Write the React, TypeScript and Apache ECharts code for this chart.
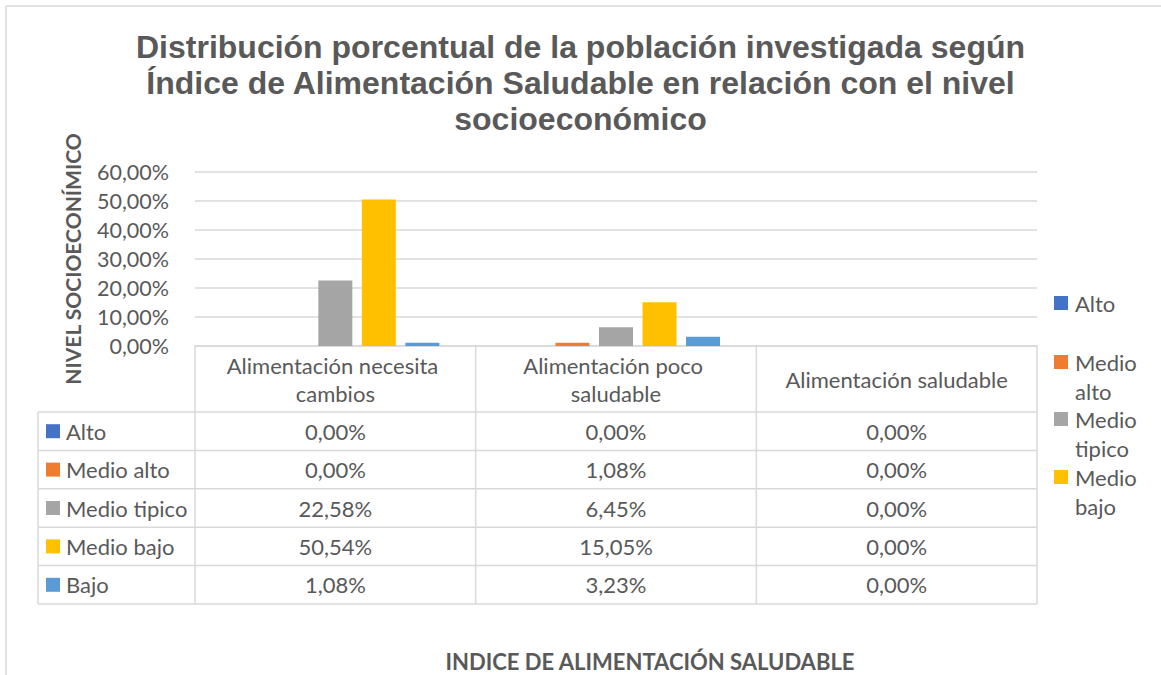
import React, { useEffect, useRef } from 'react';
import * as echarts from 'echarts';

const categories = ['Alimentación necesita cambios', 'Alimentación poco saludable', 'Alimentación saludable'];
const seriesNames = ['Alto', 'Medio alto', 'Medio tipico', 'Medio bajo', 'Bajo'];
const alto = [0, 0, 0];
const medioAlto = [0, 1.08, 0];
const medioTipico = [22.58, 6.45, 0];
const medioBajo = [50.54, 15.05, 0];
const bajo = [1.08, 3.23, 0];
const seriesValues = [alto, medioAlto, medioTipico, medioBajo, bajo];
const colors = ['#4472C4', '#ED7D31', '#A5A5A5', '#FFC000', '#5B9BD5'];
const legendNames = ['Alto', 'Medio alto', 'Medio tipico', 'Medio bajo'];
const titleText = 'Distribución porcentual de la población investigada según\nÍndice de Alimentación Saludable en relación con el nivel\nsocioeconómico';
const yName = 'NIVEL SOCIOECONÍMICO';
const xName = 'INDICE DE ALIMENTACIÓN SALUDABLE';

const W = 1161;
const H = 675;
const GRID_LEFT = 195;
const GRID_RIGHT_X = 1037;
const GRID_TOP = 172;
const GRID_BOTTOM_Y = 346;
const HEADER_BOTTOM = 412;
const ROW_H = 38.4;
const TABLE_LEFT = 38;
const TEXT = '#595959';
const LINE = '#d9d9d9';
const FONT = 'Lato';
const FS = 22;

const fmt = (v: number) => v.toFixed(2).replace('.', ',') + '%';

export default function App() {
  const ref = useRef<HTMLDivElement>(null);
  useEffect(() => {
    if (!ref.current) return;
    const chart = echarts.init(ref.current, undefined, { renderer: 'svg' });
    const colW = (GRID_RIGHT_X - GRID_LEFT) / categories.length;
    const tableBottom = HEADER_BOTTOM + ROW_H * seriesNames.length;
    const graphic: any[] = [];
    const lineStyle = { stroke: LINE, lineWidth: 1.5 };
    // outer chart border
    graphic.push({ type: 'line', shape: { x1: 6, y1: 6, x2: W, y2: 6 }, style: lineStyle, silent: true });
    graphic.push({ type: 'line', shape: { x1: 6, y1: 6, x2: 6, y2: H }, style: lineStyle, silent: true });
    // table horizontal lines
    for (let i = 0; i <= seriesNames.length; i++) {
      const y = HEADER_BOTTOM + i * ROW_H;
      graphic.push({ type: 'line', shape: { x1: TABLE_LEFT, y1: y, x2: GRID_RIGHT_X, y2: y }, style: lineStyle, silent: true });
    }
    // vertical lines
    graphic.push({ type: 'line', shape: { x1: TABLE_LEFT, y1: HEADER_BOTTOM, x2: TABLE_LEFT, y2: tableBottom }, style: lineStyle, silent: true });
    for (let c = 0; c <= categories.length; c++) {
      const x = GRID_LEFT + c * colW;
      graphic.push({ type: 'line', shape: { x1: x, y1: GRID_BOTTOM_Y, x2: x, y2: tableBottom }, style: lineStyle, silent: true });
    }
    // rows
    seriesNames.forEach((name, r) => {
      const cy = HEADER_BOTTOM + r * ROW_H + ROW_H / 2;
      graphic.push({ type: 'rect', shape: { x: 46, y: cy - 7, width: 14, height: 14 }, style: { fill: colors[r] }, silent: true });
      graphic.push({ type: 'text', x: 66, y: cy, style: { text: name, fill: TEXT, font: `${FS}px ${FONT}`, verticalAlign: 'middle', align: 'left' }, silent: true });
      seriesValues[r].forEach((v, c) => {
        graphic.push({ type: 'text', x: GRID_LEFT + c * colW + colW / 2, y: cy, style: { text: fmt(v), fill: TEXT, font: `${FS}px ${FONT}`, verticalAlign: 'middle', align: 'center' }, silent: true });
      });
    });
    // legend (right side)
    const legendCenters = [303, 362, 419, 477];
    legendNames.forEach((n, i) => {
      const c = legendCenters[i];
      graphic.push({ type: 'rect', shape: { x: 1054, y: c - 7, width: 14, height: 14 }, style: { fill: colors[seriesNames.indexOf(n)] }, silent: true });
      graphic.push({ type: 'text', x: 1075, y: c - 14.5, style: { text: n.replace(' ', '\n'), fill: TEXT, font: `${FS}px ${FONT}`, lineHeight: 29, verticalAlign: 'top', align: 'left' }, silent: true });
    });

    chart.setOption({
      animation: false,
      backgroundColor: '#ffffff',
      title: {
        text: titleText,
        left: 'center',
        top: 29,
        padding: 0,
        textStyle: { fontFamily: 'Liberation Sans', fontWeight: 'bold', fontSize: 32, lineHeight: 36, color: TEXT },
      },
      grid: { left: GRID_LEFT, top: GRID_TOP, width: GRID_RIGHT_X - GRID_LEFT, height: GRID_BOTTOM_Y - GRID_TOP, containLabel: false, outerBoundsMode: 'none' },
      xAxis: {
        type: 'category',
        data: categories,
        axisLine: { show: true, lineStyle: { color: LINE, width: 1.5 } },
        axisTick: { show: false },
        axisLabel: {
          interval: 0,
          margin: 33.5,
          verticalAlign: 'middle',
          width: 250,
          overflow: 'break',
          lineHeight: 28,
          fontSize: FS,
          fontFamily: FONT,
          color: TEXT,
        },
        name: xName,
        nameLocation: 'middle',
        nameGap: 304,
        nameTextStyle: { fontFamily: FONT, fontWeight: 'bold', fontSize: FS, color: TEXT, padding: [0, 0, 0, 68] },
      },
      yAxis: {
        type: 'value',
        min: 0,
        max: 60,
        interval: 10,
        axisLine: { show: false },
        axisTick: { show: false },
        splitLine: { lineStyle: { color: LINE, width: 1.5 } },
        axisLabel: { formatter: (v: number) => fmt(v), fontSize: 21.5, fontFamily: FONT, color: TEXT, margin: 26 },
        name: yName,
        nameLocation: 'middle',
        nameRotate: 90,
        nameGap: 112,
        nameTextStyle: { fontFamily: FONT, fontWeight: 'bold', fontSize: 21, color: TEXT },
      },
      series: seriesNames.map((n, i) => ({
        name: n,
        type: 'bar',
        data: seriesValues[i],
        barWidth: 34,
        barGap: '28%',
        itemStyle: { color: colors[i] },
      })),
      graphic,
    });
    return () => chart.dispose();
  }, []);
  return <div ref={ref} style={{ position: 'fixed', left: 0, top: 0, width: W, height: H }} />;
}
